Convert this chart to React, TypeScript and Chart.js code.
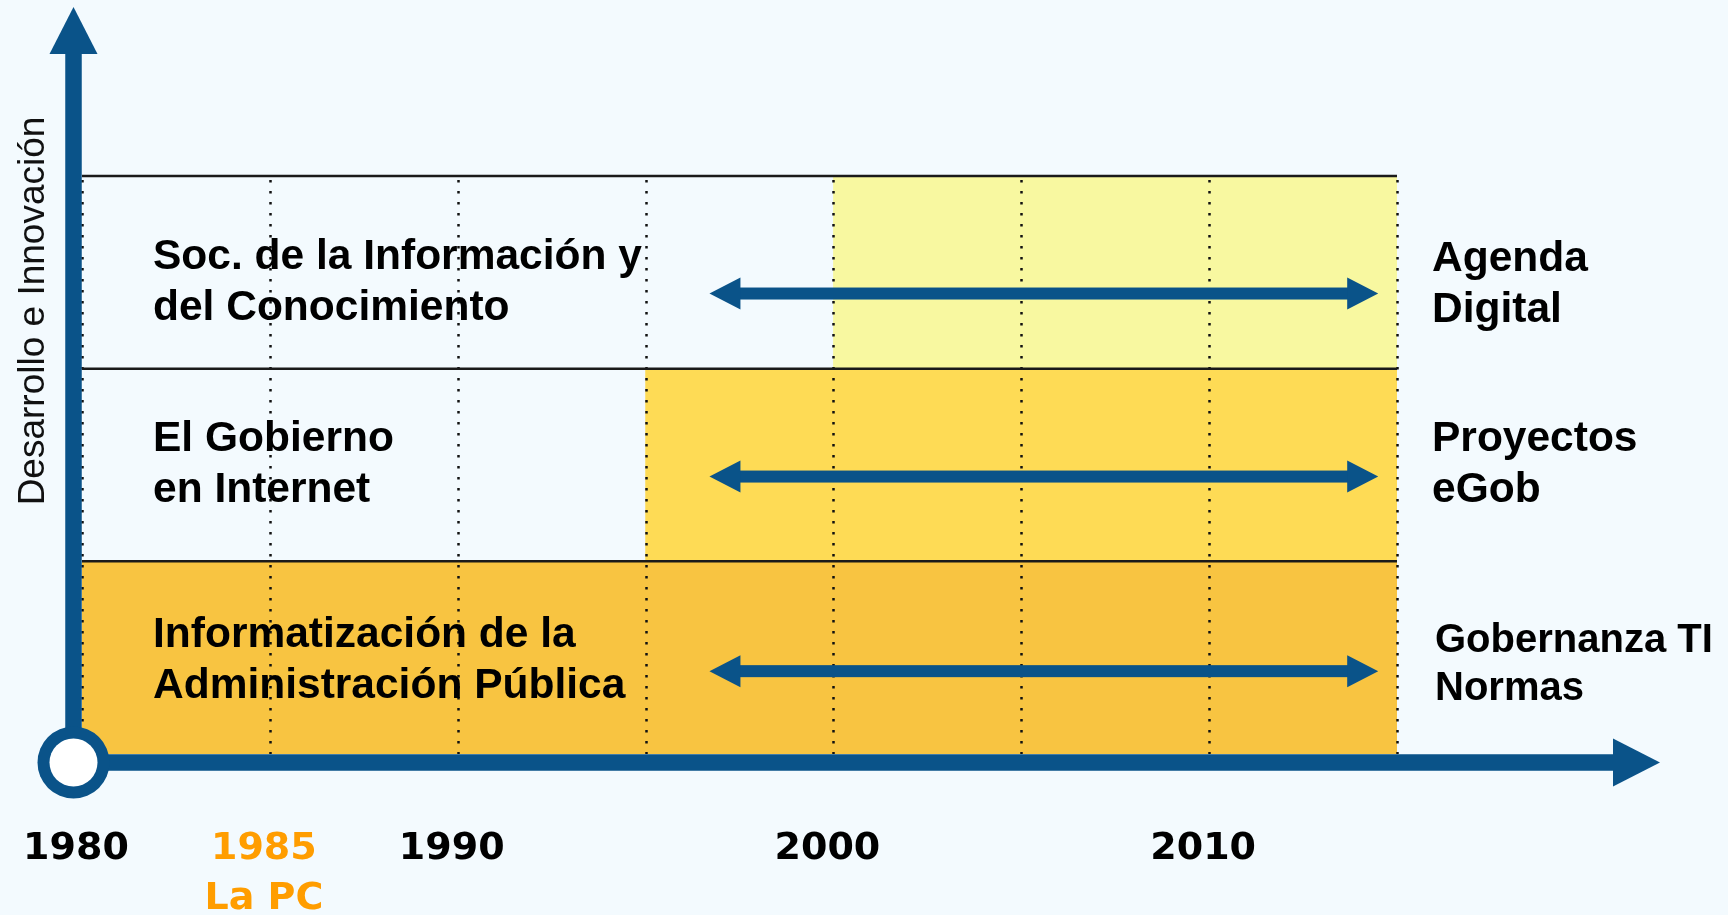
import React, { useEffect, useRef } from 'react';
import { Chart, registerables } from 'chart.js';

Chart.register(...registerables);

// ---- data ----
const rowLabels: string[][] = [
  ['Soc. de la Información y', 'del Conocimiento'],
  ['El Gobierno', 'en Internet'],
  ['Informatización de la', 'Administración Pública'],
];
const rowResults: string[][] = [
  ['Agenda', 'Digital'],
  ['Proyectos', 'eGob'],
  ['Gobernanza TI', 'Normas'],
];
const rowStartYear = [2000, 1995, 1980];
const rowEndYear = [2015, 2015, 2015];
const arrowStartYear = [1996.7, 1996.7, 1996.7];
const arrowEndYear = [2014.5, 2014.5, 2014.5];
const arrowRowPos = [0.61, 0.56, 0.57];
const gridYears = [1980, 1985, 1990, 1995, 2000, 2005, 2010, 2015];
const yearTicks = [1980, 1985, 1990, 2000, 2010];
const yearTickLabels: string[][] = [['1980'], ['1985', 'La PC'], ['1990'], ['2000'], ['2010']];
const highlightYear = 1985;
const axisMinYear = 1980;
const axisMaxYear = 2015;
const axisArrowEndYear = 2022;
const yAxisTitle = 'Desarrollo e Innovación';

// ---- styles / layout ----
const BLUE = '#0A5389';
const BG = '#F3FAFE';
const ORANGE = '#FF9D00';
const rowColors = ['#F8F8A0', '#FEDB55', '#F8C441'];
const LEFT_FONT = 'bold 42.5px "Liberation Sans", Arial, sans-serif';
const rightFontSize = [42.5, 42.5, 40];
const rightLineGap = [51, 51, 48];
const YEAR_FONT = 'bold 38px "DejaVu Sans", Verdana, sans-serif';
const TITLE_FONT = '37px "Liberation Sans", Arial, sans-serif';
const leftLabelShift = [10, 0, 3];
const rightLabelShift = [12, 0, 7];
const rightLabelIndent = [0, 0, 3];

const decorPlugin = {
  id: 'decor',
  afterDatasetDraw(chart: any, args: any) {
    if (args.index !== 0) return;
    const ctx = chart.ctx;
    const xs = chart.scales.x;
    const ys = chart.scales.y;
    const ca = chart.chartArea;
    const rowH = (ca.bottom - ca.top) / rowLabels.length;
    ctx.save();
    ctx.strokeStyle = '#111';
    ctx.lineWidth = 2.5;
    ctx.setLineDash([2.5, 8.5]);
    gridYears.forEach((yr) => {
      const x = Math.round(xs.getPixelForValue(yr)) + 0.5;
      ctx.beginPath();
      ctx.moveTo(x, ca.top + 4);
      ctx.lineTo(x, ca.bottom);
      ctx.stroke();
    });
    ctx.setLineDash([]);
    ctx.strokeStyle = '#1a1a1a';
    ctx.lineWidth = 2.5;
    rowLabels.forEach((_, i) => {
      const y = ys.getPixelForValue(i) - rowH / 2;
      ctx.beginPath();
      ctx.moveTo(xs.getPixelForValue(axisMinYear), y);
      ctx.lineTo(xs.getPixelForValue(axisMaxYear), y);
      ctx.stroke();
    });
    ctx.restore();
  },
  beforeDatasetDraw(chart: any, args: any) {
    if (args.index === 0) return;
    const meta = args.meta;
    const p0 = meta.data[0];
    const p1 = meta.data[1];
    if (!p0 || !p1) return false;
    const ctx = chart.ctx;
    const headL = 31;
    const headH = 16;
    const thick = 12;
    const y = p0.y;
    ctx.save();
    ctx.fillStyle = BLUE;
    ctx.fillRect(p0.x + headL - 1, y - thick / 2, p1.x - p0.x - 2 * headL + 2, thick);
    ctx.beginPath();
    ctx.moveTo(p0.x, y);
    ctx.lineTo(p0.x + headL, y - headH);
    ctx.lineTo(p0.x + headL, y + headH);
    ctx.closePath();
    ctx.fill();
    ctx.beginPath();
    ctx.moveTo(p1.x, y);
    ctx.lineTo(p1.x - headL, y - headH);
    ctx.lineTo(p1.x - headL, y + headH);
    ctx.closePath();
    ctx.fill();
    ctx.restore();
    return false;
  },
  afterDatasetsDraw(chart: any) {
    const ctx = chart.ctx;
    const xs = chart.scales.x;
    const ys = chart.scales.y;
    const ca = chart.chartArea;
    const axX = ca.left - 8.5;
    const axY = ca.bottom + 8.5;
    const lw = 16.5;
    ctx.save();
    ctx.fillStyle = BLUE;
    // y axis
    const yTip = 7;
    const yBase = 54;
    ctx.fillRect(axX - lw / 2, yBase - 1, lw, axY - yBase + 1);
    ctx.beginPath();
    ctx.moveTo(axX, yTip);
    ctx.lineTo(axX - 24, yBase);
    ctx.lineTo(axX + 24, yBase);
    ctx.closePath();
    ctx.fill();
    // x axis
    const xTip = xs.getPixelForValue(axisArrowEndYear);
    const xBase = xTip - 47;
    ctx.fillRect(axX, axY - lw / 2, xBase - axX + 1, lw);
    ctx.beginPath();
    ctx.moveTo(xTip, axY);
    ctx.lineTo(xBase, axY - 24);
    ctx.lineTo(xBase, axY + 24);
    ctx.closePath();
    ctx.fill();
    // origin circle
    ctx.beginPath();
    ctx.arc(axX, axY, 36, 0, Math.PI * 2);
    ctx.fill();
    ctx.fillStyle = '#FFFFFF';
    ctx.beginPath();
    ctx.arc(axX, axY, 24, 0, Math.PI * 2);
    ctx.fill();

    // row labels
    const lineGap = 51;
    ctx.fillStyle = '#000';
    ctx.font = LEFT_FONT;
    ctx.textBaseline = 'middle';
    ctx.textAlign = 'left';
    rowLabels.forEach((lines, i) => {
      const cy = ys.getPixelForValue(i) + leftLabelShift[i];
      const y0 = cy - ((lines.length - 1) * lineGap) / 2;
      lines.forEach((t, k) => ctx.fillText(t, ca.left + 71, y0 + k * lineGap));
    });
    rowResults.forEach((lines, i) => {
      ctx.font = 'bold ' + rightFontSize[i] + 'px "Liberation Sans", Arial, sans-serif';
      const gap = rightLineGap[i];
      const cy = ys.getPixelForValue(i) + rightLabelShift[i];
      const y0 = cy - ((lines.length - 1) * gap) / 2;
      lines.forEach((t, k) => ctx.fillText(t, ca.right + 35 + rightLabelIndent[i], y0 + k * gap));
    });

    // year labels
    ctx.font = YEAR_FONT;
    ctx.textAlign = 'center';
    yearTicks.forEach((yr, i) => {
      const x = xs.getPixelForValue(yr) - 6;
      ctx.fillStyle = yr === highlightYear ? ORANGE : '#000';
      yearTickLabels[i].forEach((t, k) => ctx.fillText(t, x, ca.bottom + 95 + k * 50));
    });

    // y title
    ctx.save();
    ctx.translate(axX - 40, ca.top + 135);
    ctx.rotate(-Math.PI / 2);
    ctx.font = TITLE_FONT;
    ctx.fillStyle = '#111';
    ctx.textAlign = 'center';
    ctx.textBaseline = 'middle';
    ctx.fillText(yAxisTitle, 0, 0);
    ctx.restore();

    ctx.restore();
  },
};

export default function App() {
  const canvasRef = useRef<HTMLCanvasElement | null>(null);

  useEffect(() => {
    const canvas = canvasRef.current;
    if (!canvas) return;
    const datasets: any[] = [
      {
        type: 'bar',
        data: rowStartYear.map((s, i) => [s, rowEndYear[i]]),
        backgroundColor: rowColors,
        borderWidth: 0,
        barPercentage: 1,
        categoryPercentage: 1,
        grouped: false,
        xAxisID: 'x',
        yAxisID: 'y',
        order: 2,
      },
      ...arrowStartYear.map((s, i) => ({
        type: 'line',
        indexAxis: 'x',
        data: [
          { x: s, y: i + arrowRowPos[i] },
          { x: arrowEndYear[i], y: i + arrowRowPos[i] },
        ],
        xAxisID: 'x',
        yAxisID: 'yRow',
        borderColor: BLUE,
        borderWidth: 12,
        pointRadius: 0,
        fill: false,
        order: 1,
      })),
    ];
    const chart = new Chart(canvas, {
      type: 'bar',
      data: {
        labels: rowLabels.map((l) => l.join(' ')),
        datasets,
      },
      options: {
        indexAxis: 'y',
        responsive: true,
        maintainAspectRatio: false,
        animation: false,
        layout: { padding: { left: 82, right: 331, top: 176, bottom: 161 } },
        scales: {
          x: { type: 'linear', min: axisMinYear, max: axisMaxYear, display: false, offset: false },
          y: { type: 'category', display: false, offset: true },
          yRow: {
            type: 'linear',
            min: 0,
            max: rowLabels.length,
            reverse: true,
            display: false,
            offset: false,
            grid: { offset: false },
          },
        },
        plugins: {
          legend: { display: false },
          tooltip: { enabled: false },
        },
      } as any,
      plugins: [decorPlugin as any],
    });
    return () => chart.destroy();
  }, []);

  return (
    <div
      style={{
        position: 'fixed',
        left: 0,
        top: 0,
        width: '1728px',
        height: '915px',
        background: BG,
      }}
    >
      <canvas ref={canvasRef} />
    </div>
  );
}
